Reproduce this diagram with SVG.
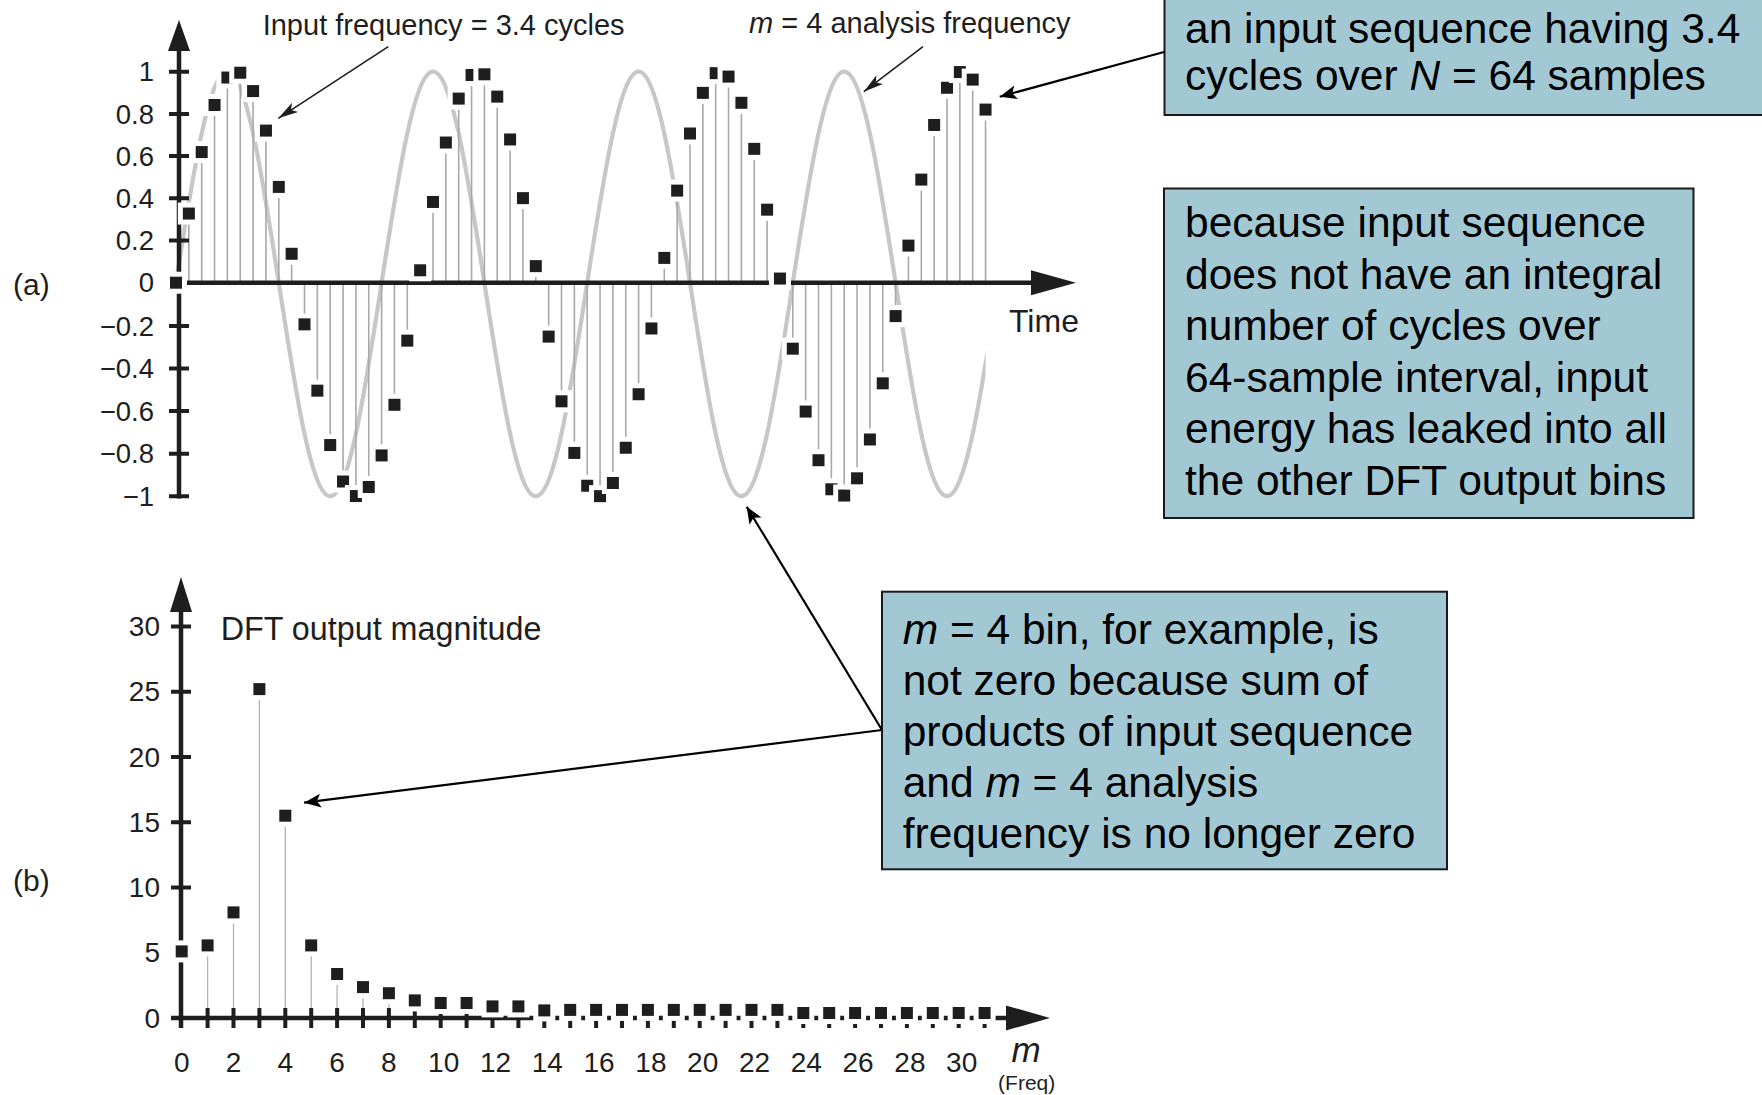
<svg xmlns="http://www.w3.org/2000/svg" width="1762" height="1095" viewBox="0 0 1762 1095">
<style>
text { font-family: "Liberation Sans", Arial, Helvetica, sans-serif; }
.ink { fill: #1e1e1e; }
.ax { stroke: #1e1e1e; stroke-width: 4.5; fill: none; }
.tk { stroke: #1e1e1e; stroke-width: 4; fill: none; }
.stem { stroke: #a9a9a9; stroke-width: 1.6; fill: none; }
.stemb { stroke: #b3b3b3; stroke-width: 1.3; fill: none; }
.wave { stroke: #c7c7c7; stroke-width: 4.2; fill: none; }
.pts { fill: #1e1e1e; stroke: #fff; stroke-width: 10; paint-order: stroke; }
.ytl { font-size: 27.5px; text-anchor: end; }
.btl { font-size: 28px; text-anchor: end; }
.xtl { font-size: 28px; text-anchor: middle; }
.note rect { fill: #a2c9d3; stroke: #1a1a1a; stroke-width: 2; }
.note text { font-size: 42.5px; fill: #000; }
.it { font-style: italic; }
.lead { stroke: #000; stroke-width: 2.2; fill: none; marker-end: url(#head); }
.thin { stroke: #1e1e1e; stroke-width: 1.6; fill: none; marker-end: url(#head-thin); }
</style>
<defs>
  <rect id="sq" x="-6" y="-6" width="12" height="12"/>
  <marker id="head" viewBox="0 0 18 16" markerWidth="18" markerHeight="16" refX="17" refY="8" orient="auto" markerUnits="userSpaceOnUse">
    <path d="M17,8 L0,1 L4,8 L0,15 Z" fill="#000"/>
  </marker>
  <marker id="head-thin" viewBox="0 0 21 12" markerWidth="21" markerHeight="12" refX="20" refY="6" orient="auto" markerUnits="userSpaceOnUse">
    <path d="M20,6 L0,0.5 L5,6 L0,11.5 Z" fill="#1e1e1e"/>
  </marker>
  <clipPath id="wave-clip"><rect x="150" y="0" width="835.6" height="560"/></clipPath>
</defs>

<!-- (a) time-domain input and m = 4 analysis sinusoid -->
<g id="plot-a">
  <path class="wave" clip-path="url(#wave-clip)" d="M176,282.7 C192.76,174.6 208.8,71.7 227.4,71.7 C246,71.7 262.04,174.6 278.8,282.7 C295.56,392.1 311.6,496.2 330.2,496.2 C348.8,496.2 364.84,392.1 381.6,282.7 C398.36,174.6 414.4,71.7 433,71.7 C451.6,71.7 467.64,174.6 484.4,282.7 C501.16,392.1 517.2,496.2 535.8,496.2 C554.4,496.2 570.44,392.1 587.2,282.7 C603.96,174.6 620,71.7 638.6,71.7 C657.2,71.7 673.24,174.6 690,282.7 C706.76,392.1 722.8,496.2 741.4,496.2 C760,496.2 776.04,392.1 792.8,282.7 C809.56,174.6 825.6,71.7 844.2,71.7 C862.8,71.7 878.84,174.6 895.6,282.7 C912.36,392.1 928.4,496.2 947,496.2 C965.6,496.2 981.64,392.1 998.4,282.7"/>
  <path class="stem" d="M188.85,282.7V213.56M201.7,282.7V152.07M214.55,282.7V104.98M227.4,282.7V77.53M240.25,282.7V72.72M253.1,282.7V91.08M265.95,282.7V130.6M278.8,282.7V186.91M291.65,282.7V253.79M304.5,282.7V324.35M317.35,282.7V390.66M330.2,282.7V445.05M343.05,282.7V481.52M355.9,282.7V496.04M368.75,282.7V487.01M381.6,282.7V455.43M394.45,282.7V404.79M407.3,282.7V340.65M420.15,282.7V270.28M433,282.7V201.95M445.85,282.7V142.52M458.7,282.7V98.6M471.55,282.7V74.98M484.4,282.7V74.3M497.25,282.7V96.61M510.1,282.7V139.47M522.95,282.7V198.14M535.8,282.7V266.14M548.65,282.7V336.6M561.5,282.7V401.31M574.35,282.7V452.93M587.2,282.7V485.75M600.05,282.7V496.16M612.9,282.7V483M625.75,282.7V447.74M638.6,282.7V394.25M651.45,282.7V328.46M664.3,282.7V257.9M677.15,282.7V190.61M690,282.7V133.5M702.85,282.7V92.86M715.7,282.7V73.16M728.55,282.7V76.6M741.4,282.7V102.79M754.25,282.7V148.84M767.1,282.7V209.67M792.8,282.7V348.68M805.65,282.7V411.56M818.5,282.7V460.22M831.35,282.7V489.28M844.2,282.7V495.54M857.05,282.7V478.31M869.9,282.7V439.48M882.75,282.7V383.34M895.6,282.7V316.1M908.45,282.7V245.61M921.3,282.7V179.6M934.15,282.7V124.96M947,282.7V87.76M959.85,282.7V72.06M972.7,282.7V79.62M985.55,282.7V109.58"/>
  <g id="axes-a">
    <line class="ax" x1="179" y1="46" x2="179" y2="498.5"/>
    <polygon class="ink" points="179,20 168,51 190,51"/>
    <path class="tk" d="M169,71.7H189M169,113.9H189M169,156.1H189M169,198.3H189M169,240.5H189M169,326H189M169,368.5H189M169,411H189M169,453.7H189M169,496.2H189"/>
    <line class="ax" x1="179" y1="282.7" x2="1034" y2="282.7"/>
    <polygon class="ink" points="1076,282.7 1031,270.2 1031,295.2"/>
  </g>
  <g class="pts">
    <use href="#sq" x="176" y="282.7"/><use href="#sq" x="188.85" y="213.56"/><use href="#sq" x="201.7" y="152.07"/><use href="#sq" x="214.55" y="104.98"/>
    <use href="#sq" x="227.4" y="77.53"/><use href="#sq" x="240.25" y="72.72"/><use href="#sq" x="253.1" y="91.08"/><use href="#sq" x="265.95" y="130.6"/>
    <use href="#sq" x="278.8" y="186.91"/><use href="#sq" x="291.65" y="253.79"/><use href="#sq" x="304.5" y="324.35"/><use href="#sq" x="317.35" y="390.66"/>
    <use href="#sq" x="330.2" y="445.05"/><use href="#sq" x="343.05" y="481.52"/><use href="#sq" x="355.9" y="496.04"/><use href="#sq" x="368.75" y="487.01"/>
    <use href="#sq" x="381.6" y="455.43"/><use href="#sq" x="394.45" y="404.79"/><use href="#sq" x="407.3" y="340.65"/><use href="#sq" x="420.15" y="270.28"/>
    <use href="#sq" x="433" y="201.95"/><use href="#sq" x="445.85" y="142.52"/><use href="#sq" x="458.7" y="98.6"/><use href="#sq" x="471.55" y="74.98"/>
    <use href="#sq" x="484.4" y="74.3"/><use href="#sq" x="497.25" y="96.61"/><use href="#sq" x="510.1" y="139.47"/><use href="#sq" x="522.95" y="198.14"/>
    <use href="#sq" x="535.8" y="266.14"/><use href="#sq" x="548.65" y="336.6"/><use href="#sq" x="561.5" y="401.31"/><use href="#sq" x="574.35" y="452.93"/>
    <use href="#sq" x="587.2" y="485.75"/><use href="#sq" x="600.05" y="496.16"/><use href="#sq" x="612.9" y="483"/><use href="#sq" x="625.75" y="447.74"/>
    <use href="#sq" x="638.6" y="394.25"/><use href="#sq" x="651.45" y="328.46"/><use href="#sq" x="664.3" y="257.9"/><use href="#sq" x="677.15" y="190.61"/>
    <use href="#sq" x="690" y="133.5"/><use href="#sq" x="702.85" y="92.86"/><use href="#sq" x="715.7" y="73.16"/><use href="#sq" x="728.55" y="76.6"/>
    <use href="#sq" x="741.4" y="102.79"/><use href="#sq" x="754.25" y="148.84"/><use href="#sq" x="767.1" y="209.67"/><use href="#sq" x="779.95" y="278.56"/>
    <use href="#sq" x="792.8" y="348.68"/><use href="#sq" x="805.65" y="411.56"/><use href="#sq" x="818.5" y="460.22"/><use href="#sq" x="831.35" y="489.28"/>
    <use href="#sq" x="844.2" y="495.54"/><use href="#sq" x="857.05" y="478.31"/><use href="#sq" x="869.9" y="439.48"/><use href="#sq" x="882.75" y="383.34"/>
    <use href="#sq" x="895.6" y="316.1"/><use href="#sq" x="908.45" y="245.61"/><use href="#sq" x="921.3" y="179.6"/><use href="#sq" x="934.15" y="124.96"/>
    <use href="#sq" x="947" y="87.76"/><use href="#sq" x="959.85" y="72.06"/><use href="#sq" x="972.7" y="79.62"/><use href="#sq" x="985.55" y="109.58"/>
  </g>
  <g class="ytl ink">
    <text x="154" y="81">1</text>
    <text x="154" y="123.5">0.8</text>
    <text x="154" y="165.7">0.6</text>
    <text x="154" y="207.9">0.4</text>
    <text x="154" y="250.1">0.2</text>
    <text x="154" y="292.3">0</text>
    <text x="154" y="335.6">−0.2</text>
    <text x="154" y="378.1">−0.4</text>
    <text x="154" y="420.6">−0.6</text>
    <text x="154" y="463.3">−0.8</text>
    <text x="154" y="505.8">−1</text>
  </g>
  <text class="ink" x="1009" y="332" font-size="32">Time</text>
  <text class="ink" x="13" y="295" font-size="30">(a)</text>
</g>

<!-- (b) DFT magnitude -->
<g id="plot-b">
  <path class="stemb" d="M207.6,1018V945.4M233.5,1018V912.4M259.4,1018V689.1M285.3,1018V815.7M311.2,1018V945.4M337.1,1018V974M363,1018V987.1M388.9,1018V993.2M414.8,1018V1000.4M440.7,1018V1003M466.6,1018V1003M492.5,1018V1006.4M518.4,1018V1006.4M544.3,1018V1010.4"/>
  <g id="axes-b">
    <line class="ax" x1="181" y1="609" x2="181" y2="1028"/>
    <polygon class="ink" points="181,577 170,612 192,612"/>
    <path class="tk" d="M171,626.5H191M171,691.75H191M171,757H191M171,822.25H191M171,887.5H191M171,952.75H191"/>
    <line class="ax" x1="171" y1="1018" x2="1008" y2="1018"/>
    <polygon class="ink" points="1050,1018 1006,1005.5 1006,1030.5"/>
    <path class="tk" d="M207.6,1008V1028M233.5,1008V1028M259.4,1008V1028M285.3,1008V1028M311.2,1008V1028M337.1,1008V1028M363,1008V1028M388.9,1008V1028M414.8,1008V1028M440.7,1008V1028M466.6,1008V1028M492.5,1008V1028M518.4,1008V1028M544.3,1008V1028M570.2,1008V1028M596.1,1008V1028M622,1008V1028M647.9,1008V1028M673.8,1008V1028M699.7,1008V1028M725.6,1008V1028M751.5,1008V1028M777.4,1008V1028M803.3,1008V1028M829.2,1008V1028M855.1,1008V1028M881,1008V1028M906.9,1008V1028M932.8,1008V1028M958.7,1008V1028M984.6,1008V1028"/>
  </g>
  <g class="pts">
    <use href="#sq" x="181.7" y="951.4"/><use href="#sq" x="207.6" y="945.4"/><use href="#sq" x="233.5" y="912.4"/><use href="#sq" x="259.4" y="689.1"/>
    <use href="#sq" x="285.3" y="815.7"/><use href="#sq" x="311.2" y="945.4"/><use href="#sq" x="337.1" y="974"/><use href="#sq" x="363" y="987.1"/>
    <use href="#sq" x="388.9" y="993.2"/><use href="#sq" x="414.8" y="1000.4"/><use href="#sq" x="440.7" y="1003"/><use href="#sq" x="466.6" y="1003"/>
    <use href="#sq" x="492.5" y="1006.4"/><use href="#sq" x="518.4" y="1006.4"/><use href="#sq" x="544.3" y="1010.4"/><use href="#sq" x="570.2" y="1009.9"/>
    <use href="#sq" x="596.1" y="1009.9"/><use href="#sq" x="622" y="1009.9"/><use href="#sq" x="647.9" y="1009.9"/><use href="#sq" x="673.8" y="1009.9"/>
    <use href="#sq" x="699.7" y="1009.9"/><use href="#sq" x="725.6" y="1009.9"/><use href="#sq" x="751.5" y="1009.9"/><use href="#sq" x="777.4" y="1009.9"/>
    <use href="#sq" x="803.3" y="1013"/><use href="#sq" x="829.2" y="1013"/><use href="#sq" x="855.1" y="1013"/><use href="#sq" x="881" y="1013"/>
    <use href="#sq" x="906.9" y="1013"/><use href="#sq" x="932.8" y="1013"/><use href="#sq" x="958.7" y="1013"/><use href="#sq" x="984.6" y="1013"/>
  </g>
  <g class="btl ink">
    <text x="160" y="636">30</text>
    <text x="160" y="701.25">25</text>
    <text x="160" y="766.5">20</text>
    <text x="160" y="831.75">15</text>
    <text x="160" y="897">10</text>
    <text x="160" y="962.25">5</text>
    <text x="160" y="1027.5">0</text>
  </g>
  <g class="xtl ink">
    <text x="181.7" y="1072">0</text>
    <text x="233.5" y="1072">2</text>
    <text x="285.3" y="1072">4</text>
    <text x="337.1" y="1072">6</text>
    <text x="388.9" y="1072">8</text>
    <text x="443.7" y="1072">10</text>
    <text x="495.5" y="1072">12</text>
    <text x="547.3" y="1072">14</text>
    <text x="599.1" y="1072">16</text>
    <text x="650.9" y="1072">18</text>
    <text x="702.7" y="1072">20</text>
    <text x="754.5" y="1072">22</text>
    <text x="806.3" y="1072">24</text>
    <text x="858.1" y="1072">26</text>
    <text x="909.9" y="1072">28</text>
    <text x="961.7" y="1072">30</text>
  </g>
  <text class="ink it" x="1026" y="1061.5" font-size="35" text-anchor="middle">m</text>
  <text class="ink" x="1026.7" y="1090" font-size="21" text-anchor="middle">(Freq)</text>
  <text class="ink" x="220.7" y="640" font-size="32.3">DFT output magnitude</text>
  <text class="ink" x="13" y="891" font-size="30">(b)</text>
</g>

<!-- plot annotations -->
<g id="label-input-freq">
  <text class="ink" x="262.7" y="35" font-size="29">Input frequency = 3.4 cycles</text>
</g>
<g id="label-analysis-freq">
  <text class="ink" x="749" y="32.5" font-size="29"><tspan class="it">m</tspan> = 4 analysis frequency</text>
</g>

<!-- explanatory notes -->
<g id="note-input" class="note">
  <rect x="1164.5" y="-10" width="610" height="125"/>
  <text x="1185" y="43">an input sequence having 3.4</text>
  <text x="1185" y="90">cycles over <tspan class="it">N</tspan> = 64 samples</text>
</g>
<g id="note-leakage" class="note">
  <rect x="1164" y="188.5" width="529.5" height="329.5"/>
  <text x="1185" y="237">because input sequence</text>
  <text x="1185" y="288.6">does not have an integral</text>
  <text x="1185" y="340.2">number of cycles over</text>
  <text x="1185" y="391.8">64-sample interval, input</text>
  <text x="1185" y="443.4">energy has leaked into all</text>
  <text x="1185" y="495">the other DFT output bins</text>
</g>
<g id="note-bin4" class="note">
  <rect x="882" y="591.7" width="565" height="277.6"/>
  <text x="902.7" y="643.5"><tspan class="it">m</tspan> = 4 bin, for example, is</text>
  <text x="902.7" y="694.5">not zero because sum of</text>
  <text x="902.7" y="745.5">products of input sequence</text>
  <text x="902.7" y="796.5">and <tspan class="it">m</tspan> = 4 analysis</text>
  <text x="902.7" y="847.5">frequency is no longer zero</text>
</g>

<g id="connectors">
  <line class="thin" x1="388.3" y1="46.7" x2="278.3" y2="118.3"/>
  <line class="thin" x1="923" y1="46.7" x2="863.8" y2="91.7"/>
  <line class="lead" x1="1165" y1="51.7" x2="999.7" y2="96.7"/>
  <line class="lead" x1="882" y1="730" x2="746.7" y2="506.7"/>
  <line class="lead" x1="882" y1="730" x2="304" y2="802.7"/>
</g>
</svg>
